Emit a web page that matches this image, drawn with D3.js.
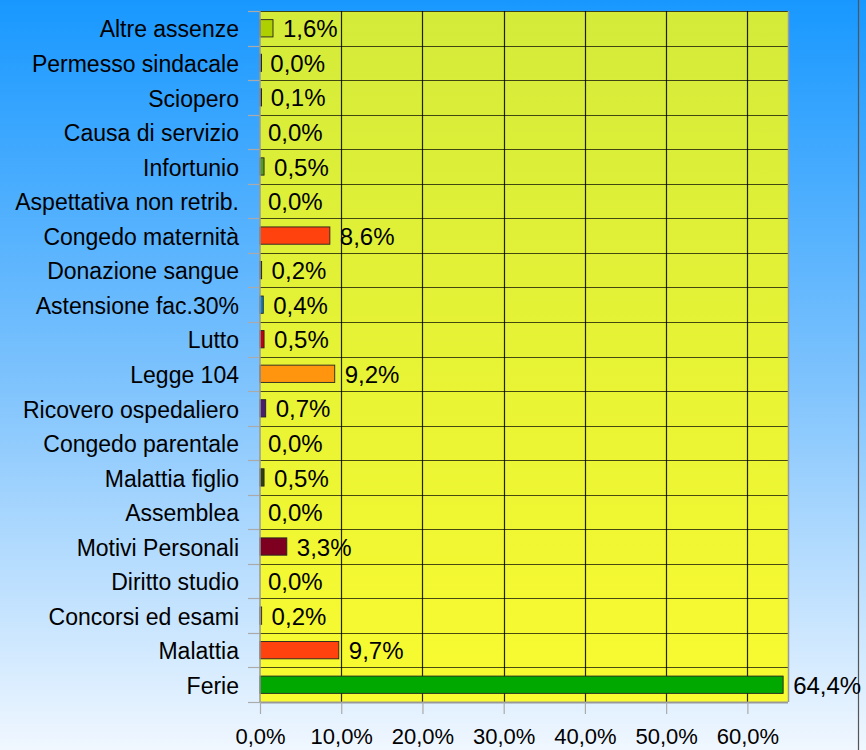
<!DOCTYPE html>
<html><head><meta charset="utf-8">
<script src="https://cdn.jsdelivr.net/npm/d3@7"></script>
<style>html,body{margin:0;padding:0;background:#fff}svg{display:block}</style>
</head><body>
<script>
const categories = ["Altre assenze","Permesso sindacale","Sciopero","Causa di servizio","Infortunio","Aspettativa non retrib.","Congedo maternità","Donazione sangue","Astensione fac.30%","Lutto","Legge 104","Ricovero ospedaliero","Congedo parentale","Malattia figlio","Assemblea","Motivi Personali","Diritto studio","Concorsi ed esami","Malattia","Ferie"];
const values = [1.6,0.04,0.1,0.0,0.5,0.0,8.6,0.2,0.4,0.5,9.2,0.7,0.0,0.5,0.0,3.3,0.0,0.2,9.7,64.4];
const colors = ["#aecf00","#004586","#1a1a40","#83caff","#579d1c","#7e0021","#ff420e","#2a5a10","#0084d1","#c5000b","#ff950e","#4b1f6f","#314004","#314004","#ffd320","#7e0021","#0084d1","#ffd320","#ff420e","#00a800"];
const xTicks = [0,10,20,30,40,50,60];

const W=866,H=750;
const svg=d3.select("body").append("svg").attr("width",W).attr("height",H);
const defs=svg.append("defs");
const bg=defs.append("linearGradient").attr("id","bg").attr("x1",0).attr("y1",0).attr("x2",0).attr("y2",1);
bg.append("stop").attr("offset","0%").attr("stop-color","#1898ff");
bg.append("stop").attr("offset","50%").attr("stop-color","#7cc2fd");
bg.append("stop").attr("offset","100%").attr("stop-color","#f0f7ff");
const pg=defs.append("linearGradient").attr("id","pg").attr("x1",0).attr("y1",0).attr("x2",0).attr("y2",1);
pg.append("stop").attr("offset","0%").attr("stop-color","#d4eb3a");
pg.append("stop").attr("offset","100%").attr("stop-color","#f9fb30");

svg.append("rect").attr("width",W).attr("height",H).attr("fill","url(#bg)");
svg.append("line").attr("x1",858.5).attr("x2",858.5).attr("y1",0).attr("y2",H).attr("stroke","#555").attr("stroke-width",1.2);

const x=d3.scaleLinear().domain([0,65]).range([260,788]);
const y=d3.scaleBand().domain(categories).range([11,702]).padding(0);
const bw=y.bandwidth();
const fmt=v=>d3.format(".1f")(v).replace(".",",")+"%";

svg.append("rect").attr("x",x(0)).attr("y",11).attr("width",x(65)-x(0)).attr("height",691).attr("fill","url(#pg)");

// horizontal grid
const hb=categories.map(c=>y(c)).concat([702]);
svg.append("g").selectAll("line").data(hb.slice(0,-1)).join("line")
  .attr("x1",x(0)).attr("x2",x(65)).attr("y1",d=>Math.round(d)+0.5).attr("y2",d=>Math.round(d)+0.5)
  .attr("stroke","#000").attr("stroke-opacity",0.7).attr("stroke-width",1.2);
// vertical grid
svg.append("g").selectAll("line").data(xTicks.slice(1)).join("line")
  .attr("x1",d=>Math.round(x(d))+0.5).attr("x2",d=>Math.round(x(d))+0.5).attr("y1",11).attr("y2",702)
  .attr("stroke","#000").attr("stroke-opacity",0.85).attr("stroke-width",1.2);
// right border
svg.append("line").attr("x1",788.5).attr("x2",788.5).attr("y1",11).attr("y2",702).attr("stroke","#999").attr("stroke-width",1.5);

// bars
svg.append("g").selectAll("rect").data(categories.map((c,i)=>({c,v:values[i],col:colors[i]})).filter(d=>d.v>0)).join("rect")
  .attr("x",x(0)).attr("y",d=>y(d.c)+bw*0.25).attr("width",d=>Math.max(x(d.v)-x(0),1.5)).attr("height",bw*0.5)
  .attr("fill",d=>d.col).attr("stroke","#222").attr("stroke-width",0.9);

// y axis
const ya=svg.append("g").attr("transform",`translate(${x(0)},0)`).call(d3.axisLeft(y).tickSize(0).tickPadding(21));
ya.select(".domain").remove();
ya.selectAll("text").attr("font-family","Liberation Sans, Arial, sans-serif").attr("font-size",23).attr("fill","#000").attr("dy","0.4em");
svg.append("g").selectAll("line").data(hb).join("line")
  .attr("x1",248).attr("x2",x(0)).attr("y1",d=>Math.round(d)+0.5).attr("y2",d=>Math.round(d)+0.5)
  .attr("stroke","#aaa").attr("stroke-width",1.2);
svg.append("line").attr("x1",x(0)).attr("x2",x(0)).attr("y1",11).attr("y2",702).attr("stroke","#999").attr("stroke-width",1.5);

// x axis
const xa=svg.append("g").attr("transform","translate(0,702)").call(d3.axisBottom(x).tickValues(xTicks).tickSize(12).tickPadding(14).tickFormat(fmt));
xa.select(".domain").attr("stroke","#999").attr("stroke-width",2).attr("d",`M${x(0)},0.5H${x(65)}`);
xa.selectAll(".tick line").attr("stroke","#aaa").attr("stroke-width",1.2);
xa.selectAll("text").attr("font-family","Liberation Sans, Arial, sans-serif").attr("font-size",22).attr("fill","#000");

// data labels
svg.append("g").selectAll("text").data(categories.map((c,i)=>({c,v:values[i]}))).join("text")
  .attr("x",d=>x(d.v)+(d.v>0?10:8)).attr("y",d=>y(d.c)+bw/2).attr("dy","0.38em")
  .attr("font-family","Liberation Sans, Arial, sans-serif").attr("font-size",24).attr("fill","#000")
  .text(d=>fmt(d.v));
</script>
</body></html>
